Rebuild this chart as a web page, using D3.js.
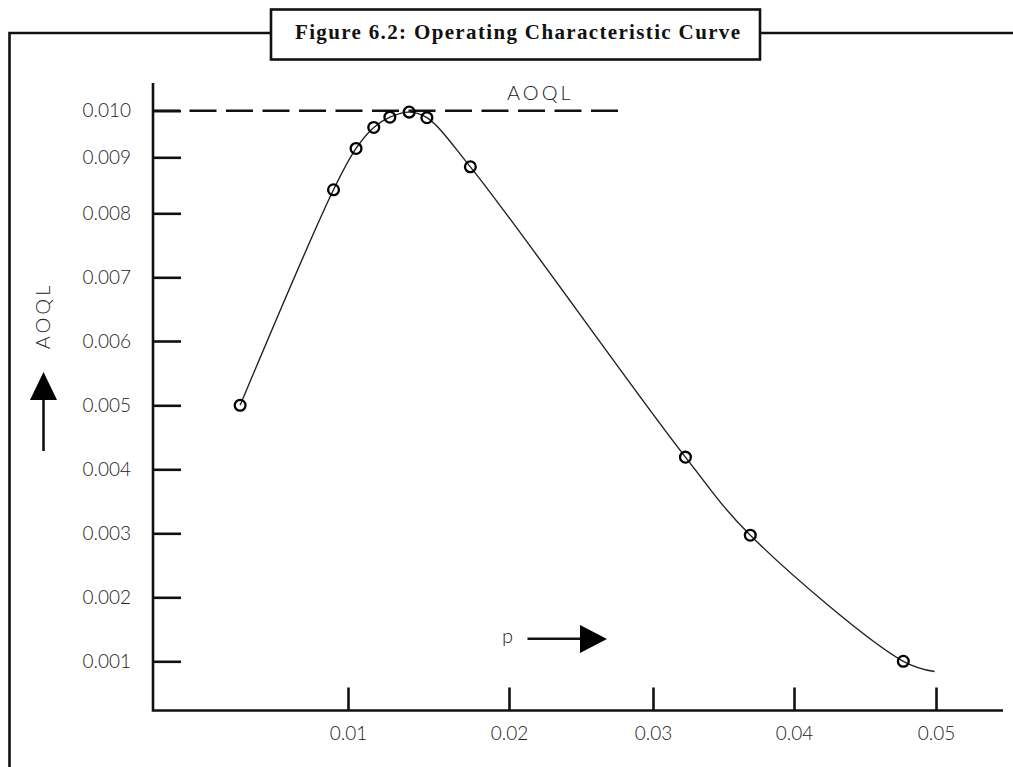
<!DOCTYPE html>
<html>
<head>
<meta charset="utf-8">
<script src="https://cdn.jsdelivr.net/npm/d3@7"></script>
<style>
  body { margin: 0; background: #fff; }
  svg { display: block; }
  .tick text { font-family: Lato, "DejaVu Sans", sans-serif; font-weight: 300; font-size: 19px; fill: #222; }
  .tick line { stroke: #111; stroke-width: 2.6px; }
</style>
</head>
<body>
<div id="chart"></div>
<script>
// values
const title = "Figure 6.2: Operating Characteristic Curve";
const xTicks = [0.01, 0.02, 0.03, 0.04, 0.05];
const yTicks = [0.001, 0.002, 0.003, 0.004, 0.005, 0.006, 0.007, 0.008, 0.009, 0.010];
const pValues   = [0.0033, 0.0091, 0.0105, 0.0116, 0.0126, 0.0138, 0.0149, 0.0176, 0.0323, 0.0369, 0.0477];
const aoqValues = [0.0050, 0.00842, 0.00919, 0.00964, 0.00986, 0.00997, 0.00985, 0.00883, 0.00419, 0.00297, 0.00100];
const curveEnd = [0.0499, 0.00084];   // where the drawn line stops
const aoql = 0.010;
const aoqlEnd = 0.0277;

var width = 1013, height = 767;

// the printed axes are hand spaced, so the scales are piecewise
var xPos = [348, 509, 653, 794, 936],
  yPos = [661.3, 597.3, 533.3, 469.3, 405.3, 341, 277.3, 213.3, 157.3, 110.7];

var x = d3.scaleLinear().domain(xTicks).range(xPos);
var y = d3.scaleLinear().domain(yTicks).range(yPos);

var axisX = 153, axisY = 710.5, axisTop = 83, axisRight = 1003;

var svg = d3.select("#chart").append("svg")
  .attr("width", width)
  .attr("height", height);

// outer frame + title box
svg.append("path")
  .attr("d", "M9.5,767 V33 H271 M760,33 H1013")
  .attr("fill", "none")
  .attr("stroke", "#111")
  .attr("stroke-width", 2.6);

svg.append("rect")
  .attr("x", 271).attr("y", 9.5)
  .attr("width", 489).attr("height", 50)
  .attr("fill", "#fff")
  .attr("stroke", "#111")
  .attr("stroke-width", 2.6);

svg.append("text")
  .attr("x", 295).attr("y", 39)
  .attr("font-family", "'Liberation Serif', serif")
  .attr("font-weight", "bold")
  .attr("font-size", 21)
  .attr("textLength", 445)
  .attr("lengthAdjust", "spacing")
  .attr("fill", "#111")
  .text(title);

// axes
var gy = svg.append("g")
  .attr("transform", "translate(" + axisX + ",0)")
  .call(d3.axisLeft(y).tickValues(yTicks).tickSize(-28).tickPadding(22).tickFormat(d3.format(".3f")));
gy.select(".domain").remove();

var gx = svg.append("g")
  .attr("transform", "translate(0," + axisY + ")")
  .call(d3.axisBottom(x).tickValues(xTicks).tickSize(-23).tickPadding(16).tickFormat(d3.format(".2f")));
gx.select(".domain").remove();

svg.append("path")
  .attr("d", "M" + axisX + "," + axisTop + " V" + axisY + " H" + axisRight)
  .attr("fill", "none")
  .attr("stroke", "#111")
  .attr("stroke-width", 2.6);

// AOQL dashed limit
svg.append("line")
  .attr("x1", axisX).attr("x2", x(aoqlEnd))
  .attr("y1", y(aoql)).attr("y2", y(aoql))
  .attr("stroke", "#111")
  .attr("stroke-width", 2.6)
  .attr("stroke-dasharray", "27,9.5");

svg.append("text")
  .attr("x", 507).attr("y", 100)
  .attr("font-family", "Lato, sans-serif")
  .attr("font-weight", 300)
  .attr("font-size", 20)
  .attr("letter-spacing", 3)
  .attr("fill", "#222")
  .text("AOQL");

// y label with up arrow
svg.append("text")
  .attr("transform", "translate(50,316) rotate(-90)")
  .attr("text-anchor", "middle")
  .attr("font-family", "Lato, sans-serif")
  .attr("font-weight", 300)
  .attr("font-size", 20)
  .attr("letter-spacing", 3)
  .attr("fill", "#222")
  .text("AOQL");

svg.append("line")
  .attr("x1", 43.5).attr("x2", 43.5).attr("y1", 398).attr("y2", 451)
  .attr("stroke", "#111").attr("stroke-width", 2.6);
svg.append("path")
  .attr("d", "M43.5,372 L57,400 L30,400 Z")
  .attr("fill", "#000");

// p label with right arrow
svg.append("text")
  .attr("x", 502).attr("y", 643)
  .attr("font-family", "Lato, sans-serif")
  .attr("font-weight", 300)
  .attr("font-size", 20)
  .attr("fill", "#222")
  .text("p");
svg.append("line")
  .attr("x1", 527.5).attr("x2", 582).attr("y1", 638.7).attr("y2", 638.7)
  .attr("stroke", "#111").attr("stroke-width", 2.6);
svg.append("path")
  .attr("d", "M580,625 L607,639 L580,653 Z")
  .attr("fill", "#000");

// curve and points
var pts = pValues.map(function (p, i) { return [p, aoqValues[i]]; });

var line = d3.line()
  .curve(d3.curveCatmullRom.alpha(0.5))
  .x(function (d) { return x(d[0]); })
  .y(function (d) { return y(d[1]); });

svg.append("path")
  .datum(pts.concat([curveEnd]))
  .attr("d", line)
  .attr("fill", "none")
  .attr("stroke", "#222")
  .attr("stroke-width", 1.4);

svg.append("g").selectAll("circle")
  .data(pts)
  .enter().append("circle")
  .attr("cx", function (d) { return x(d[0]); })
  .attr("cy", function (d) { return y(d[1]); })
  .attr("r", 5.4)
  .attr("fill", "none")
  .attr("stroke", "#000")
  .attr("stroke-width", 2.3);
</script>
</body>
</html>
